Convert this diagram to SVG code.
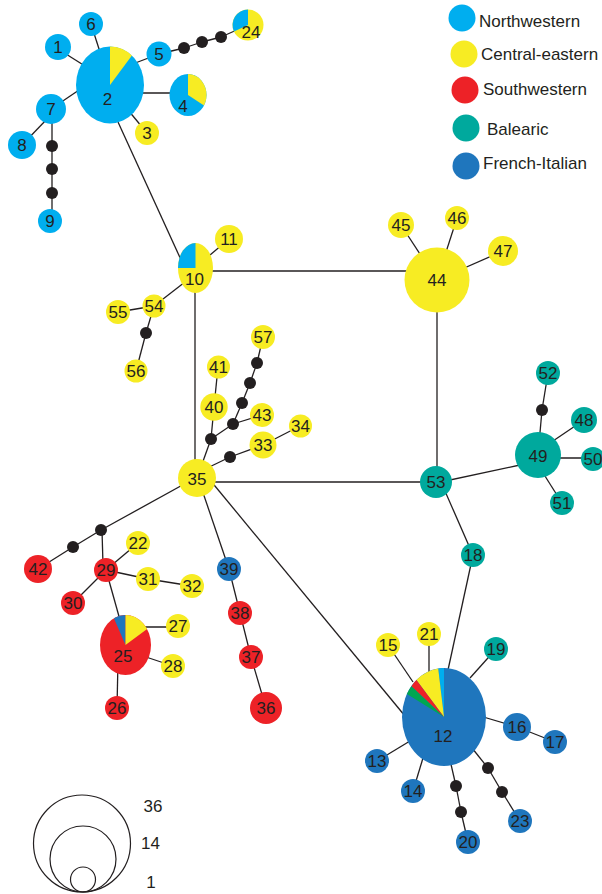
<svg xmlns="http://www.w3.org/2000/svg" width="602" height="894" viewBox="0 0 602 894">
  <style>
    .nw { fill: #00aeef; }
    .ce { fill: #f7ec23; }
    .sw { fill: #ed2227; }
    .ba { fill: #00a99d; }
    .fi { fill: #1f76bd; }
    .gr { fill: #00a651; }
    .dot { fill: #231f20; }
    .edge line { stroke: #231f20; stroke-width: 1.3; }
    text { font-family: "Liberation Sans", Arial, sans-serif; font-size: 17px; fill: #231f20; }
    .lbl { text-anchor: middle; }
    .size circle { fill: none; stroke: #231f20; stroke-width: 1.2; }
  </style>

  <!-- connectors -->
  <g id="edges" class="edge">
    <line x1="58" y1="49" x2="85" y2="66"/>
    <line x1="91" y1="24" x2="100" y2="52"/>
    <line x1="130" y1="65" x2="159" y2="54"/>
    <line x1="159" y1="54" x2="184" y2="48"/>
    <line x1="184" y1="48" x2="202" y2="42"/>
    <line x1="202" y1="42" x2="221" y2="37"/>
    <line x1="221" y1="37" x2="248" y2="25"/>
    <line x1="110" y1="93" x2="188" y2="93"/>
    <line x1="128" y1="110" x2="147" y2="133"/>
    <line x1="51" y1="109" x2="82" y2="88"/>
    <line x1="22" y1="145" x2="48" y2="118"/>
    <line x1="52" y1="109" x2="52" y2="221"/>
    <line x1="118" y1="122" x2="182" y2="262"/>
    <line x1="210" y1="255" x2="229" y2="239"/>
    <line x1="154" y1="306" x2="185" y2="282"/>
    <line x1="118" y1="312" x2="154" y2="306"/>
    <line x1="154" y1="306" x2="146" y2="333"/>
    <line x1="146" y1="333" x2="136" y2="371"/>
    <line x1="195" y1="271" x2="437" y2="271"/>
    <line x1="195" y1="268" x2="195" y2="478"/>
    <line x1="197" y1="482" x2="436" y2="482"/>
    <line x1="437" y1="280" x2="437" y2="482"/>
    <line x1="401" y1="225" x2="437" y2="280"/>
    <line x1="457" y1="218" x2="437" y2="280"/>
    <line x1="503" y1="251" x2="437" y2="280"/>
    <line x1="436" y1="483" x2="520" y2="465"/>
    <line x1="538" y1="455" x2="542" y2="410"/>
    <line x1="542" y1="410" x2="548" y2="373"/>
    <line x1="550" y1="443" x2="584" y2="420"/>
    <line x1="538" y1="458" x2="593" y2="458"/>
    <line x1="538" y1="465" x2="562" y2="503"/>
    <line x1="441" y1="482" x2="473" y2="555"/>
    <line x1="473" y1="555" x2="448" y2="670"/>
    <line x1="197" y1="478" x2="211" y2="439"/>
    <line x1="211" y1="439" x2="214" y2="407"/>
    <line x1="214" y1="407" x2="218" y2="367"/>
    <line x1="211" y1="439" x2="233" y2="424"/>
    <line x1="233" y1="424" x2="262" y2="415"/>
    <line x1="233" y1="424" x2="242" y2="403"/>
    <line x1="242" y1="403" x2="250" y2="383"/>
    <line x1="250" y1="383" x2="257" y2="363"/>
    <line x1="257" y1="363" x2="263" y2="337"/>
    <line x1="199" y1="472" x2="230" y2="457"/>
    <line x1="230" y1="457" x2="263" y2="445"/>
    <line x1="263" y1="445" x2="300" y2="426"/>
    <line x1="197" y1="477" x2="101" y2="530"/>
    <line x1="101" y1="530" x2="73" y2="547"/>
    <line x1="73" y1="547" x2="38" y2="569"/>
    <line x1="102" y1="530" x2="103" y2="565"/>
    <line x1="106" y1="570" x2="138" y2="543"/>
    <line x1="106" y1="570" x2="148" y2="579"/>
    <line x1="148" y1="579" x2="192" y2="586"/>
    <line x1="106" y1="570" x2="73" y2="603"/>
    <line x1="106" y1="570" x2="120" y2="620"/>
    <line x1="140" y1="627" x2="178" y2="627"/>
    <line x1="140" y1="655" x2="173" y2="666"/>
    <line x1="118" y1="660" x2="117" y2="708"/>
    <line x1="198" y1="478" x2="229" y2="569"/>
    <line x1="229" y1="569" x2="240" y2="613"/>
    <line x1="240" y1="613" x2="251" y2="657"/>
    <line x1="251" y1="657" x2="266" y2="708"/>
    <line x1="210" y1="480" x2="405" y2="716"/>
    <line x1="388" y1="645" x2="413" y2="682"/>
    <line x1="429" y1="634" x2="429" y2="672"/>
    <line x1="496" y1="649" x2="470" y2="678"/>
    <line x1="517" y1="727" x2="480" y2="716"/>
    <line x1="517" y1="727" x2="555" y2="742"/>
    <line x1="377" y1="761" x2="410" y2="741"/>
    <line x1="413" y1="791" x2="423" y2="758"/>
    <line x1="450" y1="760" x2="456" y2="786"/>
    <line x1="456" y1="786" x2="461" y2="812"/>
    <line x1="461" y1="812" x2="468" y2="842"/>
    <line x1="472" y1="748" x2="488" y2="768"/>
    <line x1="488" y1="768" x2="502" y2="792"/>
    <line x1="502" y1="792" x2="520" y2="821"/>
  </g>

  <!-- intermediate (missing) haplotypes -->
  <g id="median-vectors">
    <circle class="dot" cx="184" cy="48" r="6"/>
    <circle class="dot" cx="202" cy="42" r="6"/>
    <circle class="dot" cx="221" cy="37" r="6"/>
    <circle class="dot" cx="52" cy="146" r="6"/>
    <circle class="dot" cx="52" cy="169" r="6"/>
    <circle class="dot" cx="52" cy="193" r="6"/>
    <circle class="dot" cx="146" cy="333" r="6"/>
    <circle class="dot" cx="211" cy="439" r="6"/>
    <circle class="dot" cx="233" cy="424" r="6"/>
    <circle class="dot" cx="242" cy="403" r="6"/>
    <circle class="dot" cx="250" cy="383" r="6"/>
    <circle class="dot" cx="257" cy="363" r="6"/>
    <circle class="dot" cx="230" cy="457" r="6"/>
    <circle class="dot" cx="542" cy="410" r="6"/>
    <circle class="dot" cx="101" cy="530" r="6"/>
    <circle class="dot" cx="73" cy="547" r="6"/>
    <circle class="dot" cx="456" cy="786" r="6"/>
    <circle class="dot" cx="461" cy="812" r="6"/>
    <circle class="dot" cx="488" cy="768" r="6"/>
    <circle class="dot" cx="502" cy="792" r="6"/>
  </g>

  <!-- haplotypes -->
  <g id="h1"><circle class="nw" cx="58" cy="47" r="13"/><text class="lbl" x="58" y="53">1</text></g>
  <g id="h2">
    <ellipse class="nw" cx="110" cy="85" rx="34" ry="38.5"/>
    <path class="ce" d="M110,85 L110,46.5 A34,38.5 0 0 1 131.9,55.5 Z"/>
    <text class="lbl" x="107.5" y="104.5">2</text>
  </g>
  <g id="h3"><circle class="ce" cx="147" cy="133" r="12"/><text class="lbl" x="147" y="139">3</text></g>
  <g id="h4">
    <ellipse class="nw" cx="188" cy="95" rx="18.5" ry="21"/>
    <path class="ce" d="M188,95 L188,74 A18.5,21 0 0 1 204,105.5 Z"/>
    <text class="lbl" x="183" y="112">4</text>
  </g>
  <g id="h5"><circle class="nw" cx="159" cy="54" r="12.5"/><text class="lbl" x="159" y="60">5</text></g>
  <g id="h6"><circle class="nw" cx="91" cy="24" r="12"/><text class="lbl" x="91" y="30">6</text></g>
  <g id="h7"><circle class="nw" cx="51" cy="109" r="15"/><text class="lbl" x="51" y="115">7</text></g>
  <g id="h8"><circle class="nw" cx="22" cy="145" r="14"/><text class="lbl" x="22" y="151">8</text></g>
  <g id="h9"><circle class="nw" cx="50" cy="221" r="12"/><text class="lbl" x="50" y="227">9</text></g>
  <g id="h24">
    <circle class="ce" cx="248" cy="25" r="15.5"/>
    <path class="nw" d="M248,25 L234,31.6 A15.5,15.5 0 0 1 248,9.5 Z"/>
    <text class="lbl" x="251" y="37.5">24</text>
  </g>
  <g id="h10">
    <ellipse class="ce" cx="195.5" cy="268" rx="17.5" ry="25"/>
    <path class="nw" d="M195.5,268 L178,268 A17.5,25 0 0 1 195.5,243 Z"/>
    <text class="lbl" x="194.5" y="285">10</text>
  </g>
  <g id="h11"><circle class="ce" cx="229" cy="239" r="14"/><text class="lbl" x="229" y="245">11</text></g>
  <g id="h54"><circle class="ce" cx="154" cy="306" r="11.5"/><text class="lbl" x="154" y="312">54</text></g>
  <g id="h55"><circle class="ce" cx="118" cy="312" r="12"/><text class="lbl" x="118" y="318">55</text></g>
  <g id="h56"><circle class="ce" cx="136" cy="371" r="11.5"/><text class="lbl" x="136" y="377">56</text></g>
  <g id="h57"><circle class="ce" cx="263" cy="337" r="12"/><text class="lbl" x="263" y="343">57</text></g>
  <g id="h41"><circle class="ce" cx="218.5" cy="367" r="11.5"/><text class="lbl" x="218.5" y="373">41</text></g>
  <g id="h40"><circle class="ce" cx="214" cy="407" r="13.7"/><text class="lbl" x="214" y="413">40</text></g>
  <g id="h43"><circle class="ce" cx="262" cy="415" r="12"/><text class="lbl" x="262" y="421">43</text></g>
  <g id="h33"><circle class="ce" cx="263" cy="445" r="13.5"/><text class="lbl" x="263" y="451">33</text></g>
  <g id="h34"><circle class="ce" cx="300.5" cy="426" r="11.5"/><text class="lbl" x="300.5" y="432">34</text></g>
  <g id="h35"><circle class="ce" cx="197" cy="478" r="19"/><text class="lbl" x="197" y="485">35</text></g>
  <g id="h44"><circle class="ce" cx="437" cy="280" r="32.5"/><text class="lbl" x="437" y="286">44</text></g>
  <g id="h45"><circle class="ce" cx="401" cy="225" r="13"/><text class="lbl" x="401" y="231">45</text></g>
  <g id="h46"><circle class="ce" cx="457" cy="218" r="12"/><text class="lbl" x="457" y="224">46</text></g>
  <g id="h47"><circle class="ce" cx="503" cy="251" r="15"/><text class="lbl" x="503" y="257">47</text></g>
  <g id="h53"><circle class="ba" cx="436" cy="482" r="16"/><text class="lbl" x="436" y="488">53</text></g>
  <g id="h49"><circle class="ba" cx="538" cy="455" r="23"/><text class="lbl" x="538" y="461.5">49</text></g>
  <g id="h52"><circle class="ba" cx="548" cy="373" r="12"/><text class="lbl" x="548" y="379">52</text></g>
  <g id="h48"><circle class="ba" cx="584" cy="420" r="13"/><text class="lbl" x="584" y="426">48</text></g>
  <g id="h50"><circle class="ba" cx="593" cy="459" r="12"/><text class="lbl" x="593" y="465">50</text></g>
  <g id="h51"><circle class="ba" cx="562" cy="503" r="12"/><text class="lbl" x="562" y="509">51</text></g>
  <g id="h18"><circle class="ba" cx="473" cy="555" r="12"/><text class="lbl" x="473" y="561">18</text></g>
  <g id="h42"><circle class="sw" cx="38" cy="569" r="14"/><text class="lbl" x="38" y="575">42</text></g>
  <g id="h29"><circle class="sw" cx="106" cy="570" r="12"/><text class="lbl" x="106" y="576">29</text></g>
  <g id="h22"><circle class="ce" cx="138" cy="543" r="12"/><text class="lbl" x="138" y="549">22</text></g>
  <g id="h31"><circle class="ce" cx="148" cy="579" r="12"/><text class="lbl" x="148" y="585">31</text></g>
  <g id="h32"><circle class="ce" cx="192" cy="586" r="12"/><text class="lbl" x="192" y="592">32</text></g>
  <g id="h30"><circle class="sw" cx="73" cy="603" r="12"/><text class="lbl" x="73" y="609">30</text></g>
  <g id="h25">
    <ellipse class="sw" cx="125.5" cy="645" rx="25.5" ry="30"/>
    <path class="fi" d="M125.5,645 L113.9,618.3 A25.5,30 0 0 1 125.5,615 Z"/>
    <path class="ce" d="M125.5,645 L125.5,615 A25.5,30 0 0 1 147.1,629.1 Z"/>
    <text class="lbl" x="123" y="661.5">25</text>
  </g>
  <g id="h27"><circle class="ce" cx="178" cy="626" r="12"/><text class="lbl" x="178" y="632">27</text></g>
  <g id="h28"><circle class="ce" cx="173" cy="666" r="12"/><text class="lbl" x="173" y="672">28</text></g>
  <g id="h26"><circle class="sw" cx="117" cy="708" r="12"/><text class="lbl" x="117" y="714">26</text></g>
  <g id="h39"><circle class="fi" cx="229" cy="569" r="12"/><text class="lbl" x="229" y="575">39</text></g>
  <g id="h38"><circle class="sw" cx="240" cy="613" r="12"/><text class="lbl" x="240" y="619">38</text></g>
  <g id="h37"><circle class="sw" cx="251" cy="657" r="12"/><text class="lbl" x="251" y="663">37</text></g>
  <g id="h36"><circle class="sw" cx="266" cy="708" r="16"/><text class="lbl" x="266" y="714">36</text></g>
  <g id="h12">
    <ellipse class="fi" cx="444" cy="717" rx="42" ry="49"/>
    <path class="nw" d="M444,717 L438.2,668.5 A42,49 0 0 1 444,668 Z"/>
    <path class="ce" d="M444,717 L416.4,680 A42,49 0 0 1 438.2,668.5 Z"/>
    <path class="sw" d="M444,717 L411.4,686.2 A42,49 0 0 1 416.4,680 Z"/>
    <path class="gr" d="M444,717 L406.9,694 A42,49 0 0 1 411.4,686.2 Z"/>
    <text class="lbl" x="443" y="741.5">12</text>
  </g>
  <g id="h15"><circle class="ce" cx="388" cy="645" r="12"/><text class="lbl" x="388" y="651">15</text></g>
  <g id="h21"><circle class="ce" cx="429" cy="634" r="12"/><text class="lbl" x="429" y="640">21</text></g>
  <g id="h19"><circle class="ba" cx="496" cy="649" r="12"/><text class="lbl" x="496" y="655">19</text></g>
  <g id="h16"><circle class="fi" cx="517" cy="727" r="14"/><text class="lbl" x="517" y="733">16</text></g>
  <g id="h17"><circle class="fi" cx="555" cy="742" r="12"/><text class="lbl" x="555" y="748">17</text></g>
  <g id="h13"><circle class="fi" cx="377" cy="761" r="12"/><text class="lbl" x="377" y="767">13</text></g>
  <g id="h14"><circle class="fi" cx="413" cy="791" r="12"/><text class="lbl" x="413" y="797">14</text></g>
  <g id="h20"><circle class="fi" cx="468" cy="842" r="12"/><text class="lbl" x="468" y="848">20</text></g>
  <g id="h23"><circle class="fi" cx="520" cy="821" r="12"/><text class="lbl" x="520" y="827">23</text></g>

  <!-- region key -->
  <g id="legend">
    <circle class="nw" cx="462" cy="18" r="13.5"/>
    <text x="479" y="27">Northwestern</text>
    <circle class="ce" cx="464" cy="54" r="13.5"/>
    <text x="481" y="60">Central-eastern</text>
    <circle class="sw" cx="465" cy="90" r="13.5"/>
    <text x="483" y="95">Southwestern</text>
    <circle class="ba" cx="466" cy="128" r="13.5"/>
    <text x="487" y="135">Balearic</text>
    <circle class="fi" cx="466" cy="166" r="13.5"/>
    <text x="483" y="169">French-Italian</text>
  </g>

  <!-- circle size scale -->
  <g id="size-scale" class="size">
    <circle cx="82" cy="843.5" r="48.5"/>
    <circle cx="83" cy="859" r="33"/>
    <circle cx="83" cy="879.5" r="12.5"/>
    <text class="lbl" x="153" y="812">36</text>
    <text class="lbl" x="150.5" y="849">14</text>
    <text class="lbl" x="151" y="888">1</text>
  </g>
</svg>
